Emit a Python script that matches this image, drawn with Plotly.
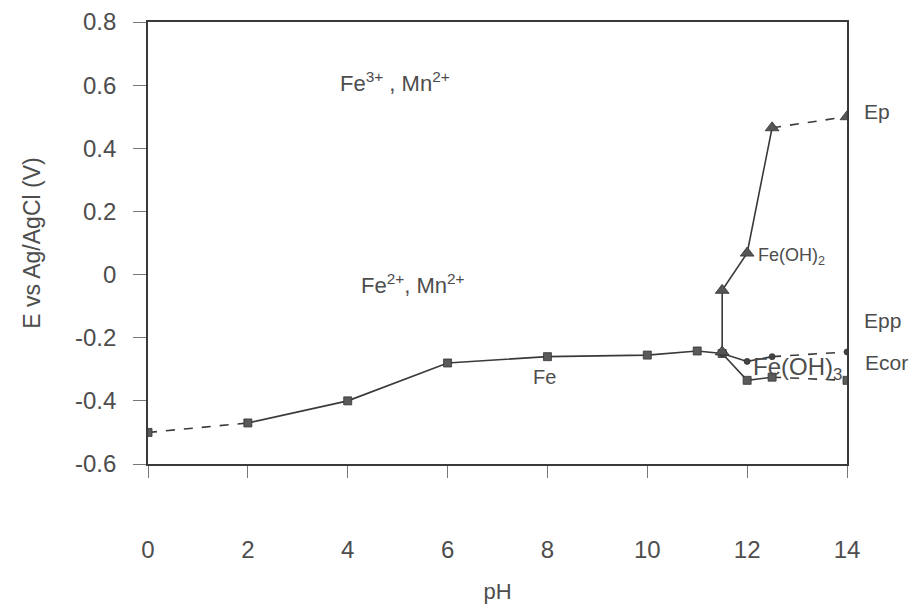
import plotly.graph_objects as go

# ---- data ----
ph_fe = [0, 2, 4, 6, 8, 10, 11, 11.5, 12, 12.5, 14]
e_fe = [-0.50, -0.47, -0.40, -0.28, -0.26, -0.255, -0.242, -0.25, -0.335, -0.325, -0.335]

ph_ecor = [11.5, 12, 12.5, 14]
e_ecor = [-0.25, -0.275, -0.26, -0.245]

ph_ep = [11.5, 11.5, 12, 12.5, 14]
e_ep = [-0.245, -0.05, 0.068, 0.465, 0.50]

x_ticks = [0, 2, 4, 6, 8, 10, 12, 14]
x_ticktext = ["0", "2", "4", "6", "8", "10", "12", "14"]
y_ticks = [0.8, 0.6, 0.4, 0.2, 0, -0.2, -0.4, -0.6]
y_ticktext = ["0.8", "0.6", "0.4", "0.2", "0", "-0.2", "-0.4", "-0.6"]

# ---- styling ----
FONT = "Liberation Sans, Arial, sans-serif"
TXT = "#4d4d4d"
LINE = "#3a3a3a"

fig = go.Figure()


def add_series(xs, ys, segments, symbol, size, mcolor):
    # segments: (start_index, end_index, dash)
    for i0, i1, dash in segments:
        fig.add_trace(go.Scatter(
            x=xs[i0:i1 + 1], y=ys[i0:i1 + 1], mode="lines",
            line=dict(color=LINE, width=1.6, dash=dash),
            showlegend=False, hoverinfo="skip"))
    fig.add_trace(go.Scatter(
        x=xs, y=ys, mode="markers",
        marker=dict(symbol=symbol, size=size, color=mcolor,
                    line=dict(width=0.8, color="#333333")),
        showlegend=False))


add_series(ph_fe, e_fe, [(0, 1, "dash"), (1, 9, "solid"), (9, 10, "dash")],
           "square", 8, "#5a5a5a")
add_series(ph_ecor, e_ecor, [(0, 2, "solid"), (2, 3, "dash")],
           "circle", 6, "#444444")
add_series(ph_ep, e_ep, [(0, 3, "solid"), (3, 4, "dash")],
           "triangle-up", 12, "#555555")

# labels inside the plot (data coordinates)
ann_in = [
    dict(x=4.95, y=0.61, text="Fe<sup>3+</sup> , Mn<sup>2+</sup>", size=22, xanchor="center"),
    dict(x=5.3, y=-0.03, text="Fe<sup>2+</sup>, Mn<sup>2+</sup>", size=22, xanchor="center"),
    dict(x=7.95, y=-0.325, text="Fe", size=20, xanchor="center"),
    dict(x=12.18, y=0.056, text="Fe(OH)<sub>2</sub>", size=18, xanchor="left"),
    dict(x=13.0, y=-0.296, text="Fe(OH)<sub>3</sub>", size=24, xanchor="center"),
]
for a in ann_in:
    fig.add_annotation(x=a["x"], y=a["y"], text=a["text"], showarrow=False,
                       xanchor=a["xanchor"], yanchor="middle",
                       font=dict(family=FONT, size=a["size"], color=TXT))

# series labels right of the plot (beyond the x range -> paper x, data y)
ann_out = [
    dict(x=1.021, y=0.515, text="Ep"),
    dict(x=1.021, y=-0.144, text="Epp"),
    dict(x=1.023, y=-0.277, text="Ecor"),
]
for a in ann_out:
    fig.add_annotation(x=a["x"], y=a["y"], xref="paper", yref="y", text=a["text"],
                       showarrow=False, xanchor="left", yanchor="middle",
                       font=dict(family=FONT, size=21, color=TXT))

# page body has an 8px margin, so the figure is sized/placed to compensate
fig.update_layout(
    width=907, height=596,
    margin=dict(l=140, r=68, t=14, b=140, autoexpand=False),
    paper_bgcolor="white", plot_bgcolor="white",
    font=dict(family=FONT, color=TXT),
    showlegend=False,
)
fig.update_xaxes(
    range=[0, 14], tickvals=x_ticks, ticktext=x_ticktext,
    showgrid=False, zeroline=False,
    showline=True, linecolor=LINE, linewidth=1.6, mirror=True,
    ticks="outside", ticklen=12, tickcolor="#777777", tickwidth=1,
    ticklabelstandoff=51,
    tickfont=dict(family=FONT, size=24, color=TXT),
    title=dict(text="pH", font=dict(family=FONT, size=22, color=TXT), standoff=27),
)
fig.update_yaxes(
    range=[-0.6, 0.8], tickvals=y_ticks, ticktext=y_ticktext,
    showgrid=False, zeroline=False,
    showline=True, linecolor=LINE, linewidth=1.6, mirror=True,
    ticks="outside", ticklen=13, tickcolor="#777777", tickwidth=1,
    ticklabelstandoff=12,
    tickfont=dict(family=FONT, size=24, color=TXT),
    title=dict(text="E vs Ag/AgCl (V)", font=dict(family=FONT, size=23, color=TXT), standoff=28),
)

fig.write_html("out.html")
